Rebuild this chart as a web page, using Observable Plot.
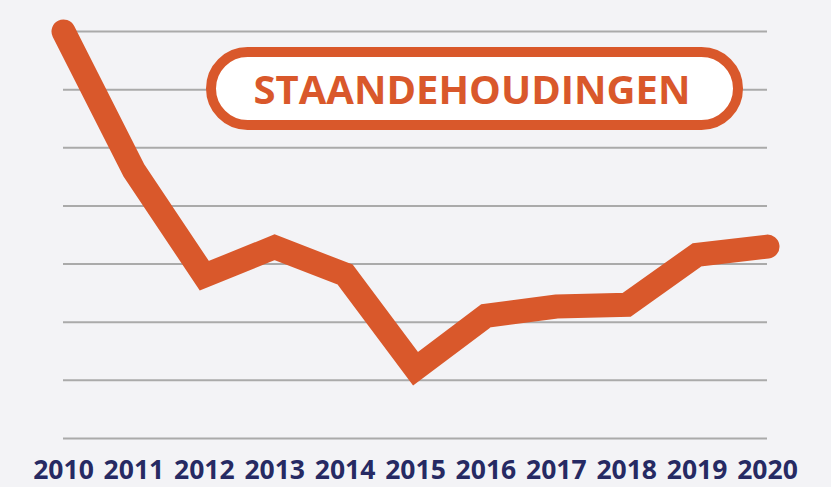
<!DOCTYPE html>
<html>
<head>
<meta charset="utf-8">
<script src="https://cdn.jsdelivr.net/npm/d3@7"></script>
<script src="https://cdn.jsdelivr.net/npm/@observablehq/plot@0.6"></script>
<style>
  html, body { margin: 0; padding: 0; background: #f3f3f6; }
  #chart { width: 831px; height: 487px; }
</style>
</head>
<body>
<div id="chart"></div>
<script>
const years = [2010, 2011, 2012, 2013, 2014, 2015, 2016, 2017, 2018, 2019, 2020];
const values = [7.0, 4.61, 2.80, 3.29, 2.82, 1.20, 2.11, 2.27, 2.30, 3.16, 3.30];
const gridValues = [0, 1, 2, 3, 4, 5, 6, 7];
const title = "STAANDEHOUDINGEN";

const data = years.map((y, i) => ({year: y, value: values[i]}));

const plot = Plot.plot({
  width: 831,
  height: 487,
  marginLeft: 63,
  marginRight: 64,
  marginTop: 31,
  marginBottom: 49,
  style: {background: "#f3f3f6", overflow: "visible"},
  x: {domain: [2010, 2020], ticks: years, tickFormat: d => String(d)},
  y: {domain: [0, 7]},
  marks: [
    Plot.ruleY(gridValues, {stroke: "#aaaaaa", strokeWidth: 2}),
    Plot.axisX(years, {
      tickSize: 0, tickPadding: 22, fontSize: 26.5, fontWeight: "bold",
      fontFamily: "Open Sans", fill: "#262a63", label: null,
      tickFormat: d => String(d)
    }),
    Plot.axisY({ticks: [], label: null}),
    Plot.line(data, {
      x: "year", y: "value", stroke: "#d9582b", strokeWidth: 24,
      strokeLinejoin: "miter", strokeLinecap: "round", strokeMiterlimit: 10
    })
  ]
});

document.getElementById("chart").appendChild(plot);

// title badge
const svg = d3.select(plot);
const g = svg.append("g");
g.append("rect")
  .attr("x", 211).attr("y", 52).attr("width", 527).attr("height", 73)
  .attr("rx", 36.5).attr("ry", 36.5)
  .attr("fill", "#ffffff").attr("stroke", "#d9582b").attr("stroke-width", 10);
g.append("text")
  .attr("x", 472).attr("y", 104)
  .attr("text-anchor", "middle")
  .attr("font-family", "Open Sans")
  .attr("font-weight", "bold")
  .attr("font-size", 40)
  .attr("fill", "#d9582b")
  .text(title);
</script>
</body>
</html>
